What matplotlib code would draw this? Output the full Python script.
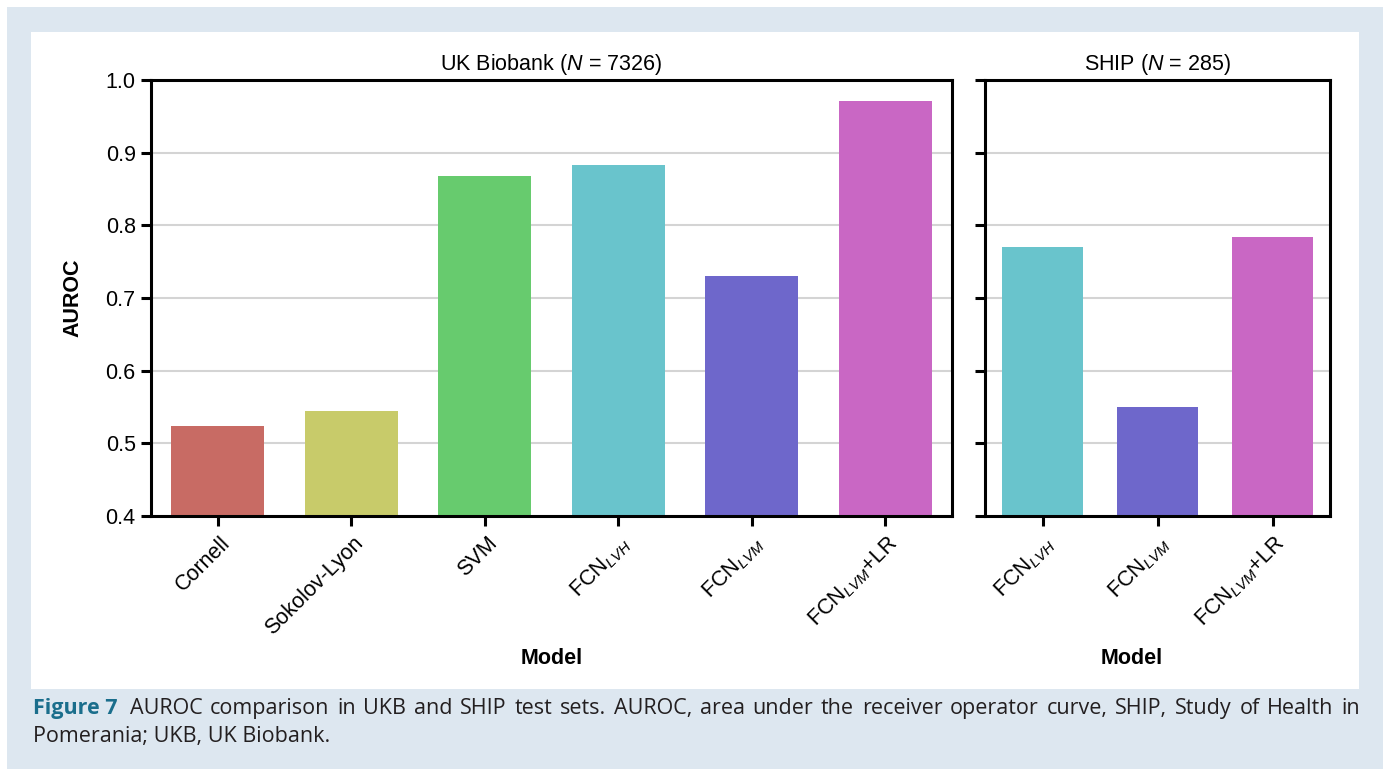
import matplotlib
matplotlib.use('Agg')
import matplotlib.pyplot as plt
import matplotlib.transforms as mtransforms
from matplotlib.patches import Rectangle

plt.rcParams['font.family'] = 'Liberation Sans'
plt.rcParams['mathtext.fontset'] = 'custom'
plt.rcParams['mathtext.rm'] = 'Liberation Sans'
plt.rcParams['mathtext.it'] = 'Liberation Sans:italic'
plt.rcParams['mathtext.bf'] = 'Liberation Sans:bold'

# AUROC per model, two test cohorts
ukb_models = ['Cornell', 'Sokolov-Lyon', 'SVM', 'FCN$_{LVH}$', 'FCN$_{LVM}$', 'FCN$_{LVM}$+LR']
ukb_auroc = [0.524, 0.545, 0.868, 0.883, 0.730, 0.971]
ukb_colors = ['#c86b64', '#c8cb6a', '#67cb6e', '#69c4cc', '#6e67cb', '#c967c4']

ship_models = ['FCN$_{LVH}$', 'FCN$_{LVM}$', 'FCN$_{LVM}$+LR']
ship_auroc = [0.770, 0.550, 0.784]
ship_colors = ['#69c4cc', '#6e67cb', '#c967c4']

yticks = [0.4, 0.5, 0.6, 0.7, 0.8, 0.9, 1.0]
fs = 15.5

caption_head = 'Figure 7'
caption_line1 = ('AUROC comparison in UKB and SHIP test sets. AUROC, area under the receiver '
                 'operator curve, SHIP, Study of Health in').split()
caption_line2 = 'Pomerania; UKB, UK Biobank.'

W, H = 1386, 769
fig = plt.figure(figsize=(W / 100, H / 100), dpi=100)
fig.patch.set_facecolor('white')

# caption box and white chart panel
fig.patches.append(Rectangle((7 / W, 0), 1376 / W, 762 / H, transform=fig.transFigure,
                             facecolor='#dde7f0', edgecolor='none', zorder=-10))
fig.patches.append(Rectangle((31 / W, 1 - 689 / H), 1328 / W, 657 / H, transform=fig.transFigure,
                             facecolor='white', edgecolor='none', zorder=-9))

ax1 = fig.add_axes([151 / W, 1 - 516 / H, 801 / W, 436 / H])
ax2 = fig.add_axes([985 / W, 1 - 516 / H, 345 / W, 436 / H])

shift = mtransforms.ScaledTranslation(9 / 100, -9 / 100, fig.dpi_scale_trans)


def draw_panel(ax, models, vals, colors, title):
    x = list(range(len(models)))
    ax.bar(x, [v - 0.4 for v in vals], bottom=0.4, width=0.7, color=colors, zorder=2)
    ax.set_xlim(-0.5, len(models) - 0.5)
    ax.set_ylim(0.4, 1.0)
    ax.set_yticks(yticks)
    ax.yaxis.grid(True, color='#d4d4d4', lw=1.5, zorder=0)
    ax.set_axisbelow(True)
    for s in ax.spines.values():
        s.set_linewidth(2.2)
    ax.tick_params(axis='both', length=7, width=2.2, labelsize=fs, direction='out', pad=4)
    ax.set_xticks(x)
    ax.set_xticklabels(models, rotation=45, ha='right', va='center', rotation_mode='anchor', fontsize=fs)
    for lab in ax.get_xticklabels():
        lab.set_transform(lab.get_transform() + shift)
    ax.set_title(title, fontsize=fs, pad=7)
    ax.set_xlabel('Model', fontsize=fs, fontweight='bold')


draw_panel(ax1, ukb_models, ukb_auroc, ukb_colors, 'UK Biobank ($N$ = 7326)')
draw_panel(ax2, ship_models, ship_auroc, ship_colors, 'SHIP ($N$ = 285)')

ax1.set_yticklabels(['%.1f' % t for t in yticks])
ax1.set_ylabel('AUROC', fontsize=fs, fontweight='bold')
ax2.set_yticklabels([])
ax1.xaxis.set_label_coords(0.5, (516 - 659) / 436, transform=ax1.transAxes)
ax2.xaxis.set_label_coords((1132 - 985) / 345, (516 - 659) / 436, transform=ax2.transAxes)
ax1.yaxis.set_label_coords((73 - 151) / 801, 0.5, transform=ax1.transAxes)
for ax in (ax1, ax2):
    ax.xaxis.label.set_va('center')
ax1.yaxis.label.set_va('center')

# figure caption, first line justified across the box
renderer = fig.canvas.get_renderer()
cap_fs = 15.5
x0, x1 = 33, 1360
base1, base2 = 1 - 714 / H, 1 - 742 / H
head = fig.text(x0 / W, base1, caption_head, fontsize=cap_fs, family='Open Sans',
                fontweight='bold', color='#1a6e8c', va='baseline')
words = [fig.text(0, base1, w, fontsize=cap_fs, family='Open Sans', color='#231f20',
                  va='baseline') for w in caption_line1]
start = x0 + head.get_window_extent(renderer).width + 12
widths = [t.get_window_extent(renderer).width for t in words]
gap = (x1 - start - sum(widths)) / (len(words) - 1)
x = start
for t, wd in zip(words, widths):
    t.set_x(x / W)
    x += wd + gap
fig.text(x0 / W, base2, caption_line2, fontsize=cap_fs, family='Open Sans',
         color='#231f20', va='baseline')

fig.savefig('out.png', dpi=100)
